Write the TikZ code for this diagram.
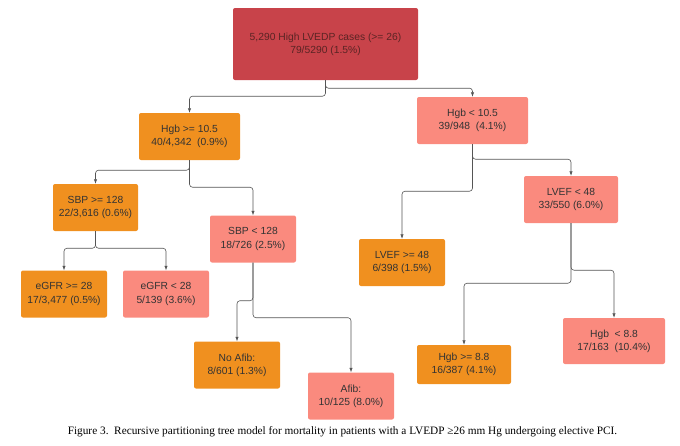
\documentclass[tikz,border=0pt]{standalone}
\usepackage{fontspec}
\setmainfont{Liberation Serif}
\newfontfamily\boxfont{Liberation Sans}
\usetikzlibrary{arrows.meta}
\definecolor{rootred}{HTML}{C8434A}
\definecolor{treeorange}{HTML}{F0901F}
\definecolor{treepink}{HTML}{FA8A7E}
\definecolor{linkgrey}{HTML}{555555}
\definecolor{textgrey}{HTML}{333333}
\definecolor{roottext}{HTML}{5A2424}
\tikzset{
  leaf/.style={rectangle, rounded corners=2pt, align=center, inner sep=0pt, minimum height=47pt, font=\boxfont\fontsize{10.3}{13.3}\selectfont, text=textgrey},
  lowrisk/.style={leaf, fill=treeorange},
  highrisk/.style={leaf, fill=treepink},
  rootbox/.style={leaf, fill=rootred, text=roottext, minimum width=185pt, minimum height=72pt},
  flow/.style={-{Latex[length=1.6mm,width=1.2mm]}, draw=linkgrey, line width=0.6pt, rounded corners=3pt},
}
\begin{document}
\begin{tikzpicture}[x=1pt,y=-1pt]
  \useasboundingbox (0,0) rectangle (680,445);
  % root and first split
  \node[rootbox] (root) at (325.5,44) {5,290 High LVEDP cases (>= 26)\\79/5290 (1.5\%)};
  \node[lowrisk,minimum width=101pt] (hgbhi) at (189.5,136.5) {Hgb >= 10.5\\40/4,342\ \ (0.9\%)};
  \node[highrisk,minimum width=111pt] (hgblo) at (472.5,120.5) {Hgb < 10.5\\39/948\ \ (4.1\%)};
  % left side
  \node[lowrisk,minimum width=85pt] (sbphi) at (95.5,207.5) {SBP >= 128\\22/3,616 (0.6\%)};
  \node[highrisk,minimum width=86pt] (sbplo) at (253,239) {SBP < 128\\18/726 (2.5\%)};
  \node[lowrisk,minimum width=86pt] (egfrhi) at (64,294) {eGFR >= 28\\17/3,477 (0.5\%)};
  \node[highrisk,minimum width=86pt] (egfrlo) at (166,294) {eGFR < 28\\5/139 (3.6\%)};
  \node[lowrisk,minimum width=86pt] (noafib) at (237,365) {No Afib:\\8/601 (1.3\%)};
  \node[highrisk,minimum width=86pt] (afib) at (351,396) {Afib:\\10/125 (8.0\%)};
  % right side
  \node[lowrisk,minimum width=86pt] (lvefhi) at (402,262.5) {LVEF >= 48\\6/398 (1.5\%)};
  \node[highrisk,minimum width=94pt] (lveflo) at (571,199.5) {LVEF < 48\\33/550 (6.0\%)};
  \node[lowrisk,minimum width=94pt,minimum height=39pt] (hgbmid) at (464,364.5) {Hgb >= 8.8\\16/387 (4.1\%)};
  \node[highrisk,minimum width=102pt,minimum height=46pt] (hgbvlo) at (614,341) {Hgb\ \ < 8.8\\17/163\ \ (10.4\%)};
  % connectors
  \draw[flow] (root.south) -- ++(0,16) -| (hgbhi);
  \draw[flow] (root.south) -- ++(0,8) -| (hgblo);
  \draw[flow] (hgbhi.south) -- ++(0,10) -| (sbphi);
  \draw[flow] (hgbhi.south) -- ++(0,27) -| (sbplo);
  \draw[flow] (sbphi.south) -- ++(0,17) -| (egfrhi);
  \draw[flow] (sbphi.south) -- ++(0,17) -| (egfrlo);
  \draw[flow] (sbplo.south) -- ++(0,38) -| (noafib);
  \draw[flow] (sbplo.south) -- ++(0,55) -| (afib);
  \draw[flow] (hgblo.south) -- ++(0,47) -| (lvefhi);
  \draw[flow] (hgblo.south) -- ++(0,15) -| (lveflo);
  \draw[flow] (lveflo.south) -- ++(0,60) -| (hgbmid);
  \draw[flow] (lveflo.south) -- ++(0,47) -| (hgbvlo);
  % caption
  \node[font=\fontsize{11.3}{13}\selectfont] (caption) at (342.5,432) {Figure 3.\ \ Recursive partitioning tree model for mortality in patients with a LVEDP ≥26 mm Hg undergoing elective PCI.};
\end{tikzpicture}
\end{document}
